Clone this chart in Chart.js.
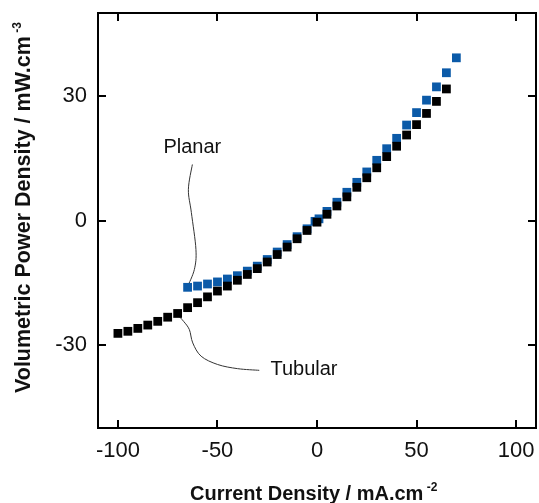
<!DOCTYPE html>
<html><head><meta charset="utf-8">
<script src="https://cdn.jsdelivr.net/npm/chart.js@4.4.1/dist/chart.umd.min.js"></script>
<style>html,body{margin:0;padding:0;background:#fff}#wrap{width:539px;height:503px;position:relative}</style>
</head><body><div id="wrap"><canvas id="c" width="539" height="503"></canvas></div>
<script>
// ---- data ----
const tubularX = [-100,-95,-90,-85,-80,-75,-70,-65,-60,-55,-50,-45,-40,-35,-30,-25,-20,-15,-10,-5,0,5,10,15,20,25,30,35,40,45,50,55,60,65];
const tubularY = [-27.2,-26.7,-26.0,-25.2,-24.3,-23.3,-22.4,-21.0,-19.8,-18.4,-17.0,-15.8,-14.4,-13.0,-11.6,-10.0,-8.2,-6.4,-4.4,-2.4,-0.4,1.5,3.5,5.7,8.0,10.3,12.7,15.4,17.9,20.6,23.1,25.8,28.7,31.7];
const planarX = [-65,-60,-55,-50,-45,-40,-35,-30,-25,-20,-15,-10,-5,-1,1,5,10,15,20,25,30,35,40,45,50,55,60,65,70];
const planarY = [-16.1,-15.8,-15.3,-14.8,-14.1,-13.3,-12.2,-11.0,-9.4,-7.6,-5.8,-3.9,-2.0,-0.2,0.4,2.2,4.4,6.8,9.2,11.7,14.5,17.3,19.8,23.0,26.0,29.0,32.2,35.6,39.2];
const xTicks = [-100,-50,0,50,100];
const yTicks = [-30,0,30];
const xTitle = 'Current Density / mA.cm';
const xTitleSup = '-2';
const yTitle = 'Volumetric Power Density / mW.cm';
const yTitleSup = '-3';
const planarLabel = 'Planar';
const tubularLabel = 'Tubular';
// annotation leader paths in data units
const planarLeader = [[-62.6,13.5],[-64.6,7.5],[-63.1,1.9],[-60.8,-7.0],[-61.6,-11.8],[-65.0,-15.9]];
const tubularLeader = [[-70.1,-22.7],[-67.0,-24.3],[-64.1,-26.3],[-62.4,-29.5],[-58.2,-32.7],[-49.9,-34.7],[-39.9,-35.7],[-29.0,-36.1]];
const planarLabelPos = [-62.6, 17.6];
const tubularLabelPos = [-23.4, -35.9];

const FONT = "'Liberation Sans', Arial, Helvetica, sans-serif";

function smoothPath(ctx, pts){
  ctx.moveTo(pts[0][0], pts[0][1]);
  for(let i=0;i<pts.length-1;i++){
    const p0=pts[Math.max(0,i-1)], p1=pts[i], p2=pts[i+1], p3=pts[Math.min(pts.length-1,i+2)];
    const c1=[p1[0]+(p2[0]-p0[0])/6, p1[1]+(p2[1]-p0[1])/6];
    const c2=[p2[0]-(p3[0]-p1[0])/6, p2[1]-(p3[1]-p1[1])/6];
    ctx.bezierCurveTo(c1[0],c1[1],c2[0],c2[1],p2[0],p2[1]);
  }
}

const leaders = {
  id:'leaders',
  beforeDatasetsDraw(chart){
    const {ctx, scales:{x,y}} = chart;
    ctx.save();
    ctx.strokeStyle='#333'; ctx.lineWidth=1;
    [planarLeader, tubularLeader].forEach(path=>{
      const pts = path.map(p=>[x.getPixelForValue(p[0]), y.getPixelForValue(p[1])]);
      ctx.beginPath(); smoothPath(ctx, pts); ctx.stroke();
    });
    ctx.fillStyle='#111';
    ctx.font = '20px '+FONT;
    ctx.textBaseline='middle';
    ctx.textAlign='center';
    ctx.fillText(planarLabel, x.getPixelForValue(planarLabelPos[0]), y.getPixelForValue(planarLabelPos[1]));
    ctx.textAlign='left';
    ctx.fillText(tubularLabel, x.getPixelForValue(tubularLabelPos[0]), y.getPixelForValue(tubularLabelPos[1]));
    ctx.restore();
  }
};

const frame = {
  id:'frame',
  afterDraw(chart){
    const {ctx, chartArea:a, scales:{x,y}} = chart;
    ctx.save();
    ctx.strokeStyle='#000'; ctx.lineWidth=2;
    ctx.strokeRect(a.left, a.top, a.right-a.left, a.bottom-a.top);
    const L=8;
    ctx.beginPath();
    xTicks.forEach(v=>{const p=Math.round(x.getPixelForValue(v)); ctx.moveTo(p,a.bottom); ctx.lineTo(p,a.bottom-L); ctx.moveTo(p,a.top); ctx.lineTo(p,a.top+L);});
    yTicks.forEach(v=>{const p=Math.round(y.getPixelForValue(v)); ctx.moveTo(a.left,p); ctx.lineTo(a.left+L,p); ctx.moveTo(a.right,p); ctx.lineTo(a.right-L,p);});
    ctx.stroke();
    // titles
    ctx.fillStyle='#111';
    ctx.textBaseline='alphabetic';
    ctx.font='bold 20px '+FONT;
    const xw = ctx.measureText(xTitle).width;
    const xStart = 190;
    ctx.textAlign='left';
    ctx.fillText(xTitle, xStart, 500);
    ctx.font='bold 12px '+FONT;
    ctx.fillText(' '+xTitleSup, xStart+xw, 491);
    // y title
    ctx.save();
    ctx.translate(30, 393);
    ctx.rotate(-Math.PI/2);
    ctx.font='bold 21.5px '+FONT;
    const yw = ctx.measureText(yTitle).width;
    ctx.fillText(yTitle, 0, 0);
    ctx.font='bold 12px '+FONT;
    ctx.fillText(' '+yTitleSup, yw, -9);
    ctx.restore();
    ctx.restore();
  }
};

function noPad(s){ s.paddingTop=0; s.paddingBottom=0; s.paddingLeft=0; s.paddingRight=0; }

new Chart(document.getElementById('c'), {
  type:'scatter',
  data:{
    datasets:[
      {label:'Tubular', data: tubularX.map((v,i)=>({x:v,y:tubularY[i]})), pointStyle:'rect', pointRadius:6.2, backgroundColor:'#000', borderWidth:0, pointHoverRadius:6.2},
      {label:'Planar', data: planarX.map((v,i)=>({x:v,y:planarY[i]})), pointStyle:'rect', pointRadius:6.2, backgroundColor:'#0b5aa8', borderWidth:0, pointHoverRadius:6.2}
    ]
  },
  options:{
    responsive:false, animation:false, devicePixelRatio:1,
    layout:{autoPadding:false, padding:{top:13,right:3,left:0,bottom:0}},
    plugins:{legend:{display:false}, tooltip:{enabled:false}},
    events:[],
    scales:{
      x:{type:'linear', min:-110, max:110,
        afterBuildTicks(s){ s.ticks = xTicks.map(v=>({value:v})); },
        afterFit(s){ s.height = 75; noPad(s); },
        grid:{display:false, drawTicks:false}, border:{display:false},
        ticks:{font:{size:22, family:FONT}, color:'#111', padding:10, maxRotation:0, autoSkip:false}
      },
      y:{type:'linear', min:-50, max:50,
        afterBuildTicks(s){ s.ticks = yTicks.map(v=>({value:v})); },
        afterFit(s){ s.width = 98; noPad(s); },
        grid:{display:false, drawTicks:false}, border:{display:false},
        ticks:{font:{size:22, family:FONT}, color:'#111', padding:11, autoSkip:false}
      }
    }
  },
  plugins:[leaders, frame]
});
</script>
</body></html>
